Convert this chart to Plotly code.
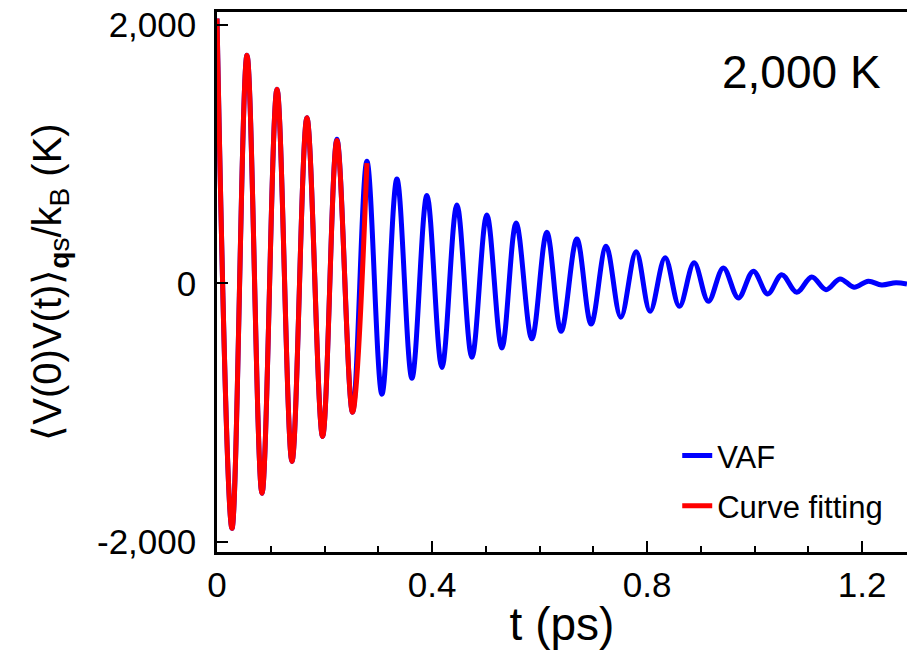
import plotly.graph_objects as go

# Extrema of the velocity autocorrelation, alternating peak / trough
vaf_t = [0, 0.0279, 0.0558, 0.0837, 0.1116, 0.1395, 0.1673, 0.1964, 0.2231, 0.2521,
         0.2789, 0.3068, 0.3347, 0.3626, 0.3905, 0.4184, 0.4463, 0.4742, 0.5020, 0.5299,
         0.5565, 0.5857, 0.6136, 0.6402, 0.6694, 0.6960, 0.7239, 0.7512, 0.7797, 0.8057,
         0.8336, 0.8602, 0.8876, 0.9141, 0.9420, 0.9699, 0.9978, 1.0245, 1.0506, 1.0785,
         1.1064, 1.1330, 1.1590, 1.1850, 1.2116, 1.2365, 1.2631, 1.2836]
vaf_v = [2050, -1895, 1765, -1624, 1502, -1378, 1281, -1184, 1115, -996,
         945, -857, 808, -733, 680, -650, 607, -572, 529, -500,
         467, -428, 395, -371, 343, -314, 287, -262, 246, -216,
         198, -177, 159, -138, 120, -112, 95, -81, 68, -68,
         50, -48, 35, -29, 17, -12, 6, -5]

# Curve fitting (red), first part only
fit_t = [0, 0.0279, 0.0558, 0.0837, 0.1116, 0.1395, 0.1673, 0.1964, 0.2231, 0.2521, 0.2789]
fit_v = [2050, -1895, 1765, -1624, 1502, -1378, 1281, -1184, 1106, -996, 930]

y_tick_vals = [-2000, 0, 2000]
y_tick_text = ["-2,000", "0", "2,000"]

FONT = "Liberation Sans, Arial, sans-serif"

fig = go.Figure()
fig.add_trace(go.Scatter(x=vaf_t, y=vaf_v, mode="lines", name="VAF", legendgroup="vaf",
                         line=dict(color="#0000FF", width=5, shape="spline", smoothing=1.0)))
fig.add_trace(go.Scatter(x=fit_t, y=fit_v, mode="lines", name="Curve fitting", legendgroup="fit",
                         line=dict(color="#FF0000", width=5, shape="spline", smoothing=1.0)))

fig.update_layout(
    width=907, height=658,
    margin=dict(l=217, r=0, t=12, b=106),
    plot_bgcolor="white", paper_bgcolor="white",
    font=dict(family=FONT, color="black"),
    showlegend=True,
    legend=dict(x=0.667, y=0.228, xanchor="left", yanchor="top",
                font=dict(size=31, family=FONT), bgcolor="rgba(0,0,0,0)",
                traceorder="grouped", tracegroupgap=7),
    annotations=[dict(text="2,000 K", x=0.8465, y=0.889, xref="paper", yref="paper",
                      xanchor="center", yanchor="middle",
                      showarrow=False, font=dict(size=46, family=FONT))],
)

fig.update_xaxes(
    range=[0, 1.2836], showline=True, linecolor="black", linewidth=2.5, mirror=True,
    ticks="inside", ticklen=11, tickwidth=2, tickcolor="black",
    tick0=0, dtick=0.4, tickfont=dict(size=35), showgrid=False, zeroline=False,
    ticklabelstandoff=0,
    minor=dict(tick0=0, dtick=0.1, ticks="inside", ticklen=6, tickwidth=2,
               tickcolor="black", showgrid=False),
    title=dict(text="t (ps)", font=dict(size=46), standoff=6),
)
fig.update_yaxes(
    range=[-2078, 2100], showline=True, linecolor="black", linewidth=2.5, mirror=False,
    ticks="inside", ticklen=11, tickwidth=2, tickcolor="black",
    tickmode="array", tickvals=y_tick_vals, ticktext=y_tick_text,
    tickfont=dict(size=35), showgrid=False, zeroline=False, ticklabelstandoff=11,
    title=dict(text="⟨V(0)V(t)⟩<sub><b>q</b>s</sub>/k<sub>B</sub> (K)",
               font=dict(size=40), standoff=24),
)

fig.write_html("out.html")
